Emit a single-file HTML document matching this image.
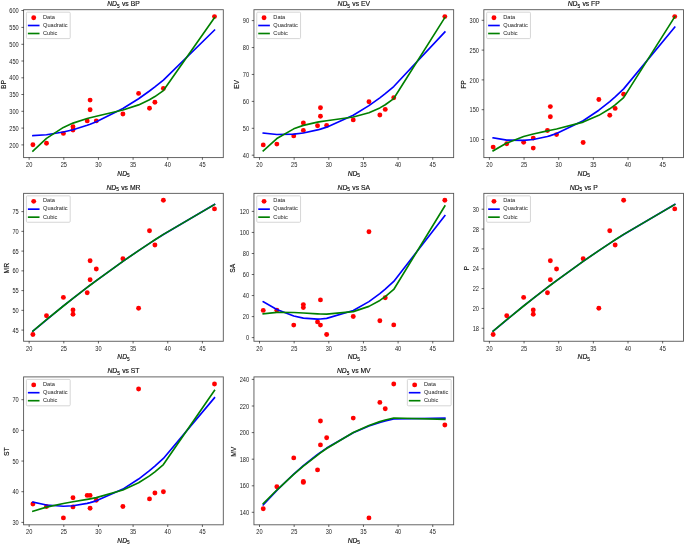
<!DOCTYPE html>
<html><head><meta charset="utf-8"><title>ND5 regression plots</title>
<style>
html,body{margin:0;padding:0;background:#fff;}
body{width:685px;height:545px;overflow:hidden;font-family:"Liberation Sans",sans-serif;}
svg text{font-family:"Liberation Sans",sans-serif;}
</style></head><body>
<svg width="685" height="545" viewBox="0 0 685 545" style="display:block;will-change:transform" font-family="'Liberation Sans', sans-serif" fill="#000"><style>text{fill:#1a1a1a}</style>
<rect x="0" y="0" width="685" height="545" fill="#fff"/>
<g>
<circle cx="32.9" cy="144.7" r="2.45" fill="#f00"/>
<circle cx="46.5" cy="143.2" r="2.45" fill="#f00"/>
<circle cx="63.4" cy="133.4" r="2.45" fill="#f00"/>
<circle cx="73" cy="126.7" r="2.45" fill="#f00"/>
<circle cx="73" cy="130" r="2.45" fill="#f00"/>
<circle cx="87.2" cy="120.9" r="2.45" fill="#f00"/>
<circle cx="90.1" cy="100.1" r="2.45" fill="#f00"/>
<circle cx="90.1" cy="109.8" r="2.45" fill="#f00"/>
<circle cx="96.3" cy="120.9" r="2.45" fill="#f00"/>
<circle cx="122.9" cy="114" r="2.45" fill="#f00"/>
<circle cx="138.6" cy="93.4" r="2.45" fill="#f00"/>
<circle cx="149.5" cy="108.2" r="2.45" fill="#f00"/>
<circle cx="154.9" cy="102.2" r="2.45" fill="#f00"/>
<circle cx="163.4" cy="88.5" r="2.45" fill="#f00"/>
<circle cx="214.5" cy="16.6" r="2.45" fill="#f00"/>
<polyline points="32.9,135.69 46.5,134.76 63.4,132.03 73,129.7 87.2,125.23 90.1,124.16 96.3,121.71 122.9,108.53 138.6,98.72 149.5,91.03 154.9,86.95 163.4,80.16 214.5,30.07" fill="none" stroke="#00f" stroke-width="1.65" stroke-linecap="square" stroke-linejoin="round"/>
<polyline points="32.9,151.08 46.5,138.32 63.4,127.42 73,123.12 87.2,118.49 90.1,117.72 96.3,116.22 122.9,110.07 138.6,104.88 149.5,99.73 154.9,96.55 163.4,90.56 214.5,17.62" fill="none" stroke="#008000" stroke-width="1.65" stroke-linecap="square" stroke-linejoin="round"/>
<rect x="23.6" y="9.7" width="199.7" height="147.9" fill="none" stroke="#555" stroke-width="0.9"/>
<line x1="29.15" y1="157.6" x2="29.15" y2="159.8" stroke="#000" stroke-width="0.6"/>
<text transform="translate(29.15,167.2) scale(1,1.2)" font-size="5.65" text-anchor="middle">20</text>
<line x1="63.8" y1="157.6" x2="63.8" y2="159.8" stroke="#000" stroke-width="0.6"/>
<text transform="translate(63.8,167.2) scale(1,1.2)" font-size="5.65" text-anchor="middle">25</text>
<line x1="98.45" y1="157.6" x2="98.45" y2="159.8" stroke="#000" stroke-width="0.6"/>
<text transform="translate(98.45,167.2) scale(1,1.2)" font-size="5.65" text-anchor="middle">30</text>
<line x1="133.1" y1="157.6" x2="133.1" y2="159.8" stroke="#000" stroke-width="0.6"/>
<text transform="translate(133.1,167.2) scale(1,1.2)" font-size="5.65" text-anchor="middle">35</text>
<line x1="167.75" y1="157.6" x2="167.75" y2="159.8" stroke="#000" stroke-width="0.6"/>
<text transform="translate(167.75,167.2) scale(1,1.2)" font-size="5.65" text-anchor="middle">40</text>
<line x1="202.4" y1="157.6" x2="202.4" y2="159.8" stroke="#000" stroke-width="0.6"/>
<text transform="translate(202.4,167.2) scale(1,1.2)" font-size="5.65" text-anchor="middle">45</text>
<line x1="21.4" y1="10.5" x2="23.6" y2="10.5" stroke="#000" stroke-width="0.6"/>
<text transform="translate(18.7,13.1) scale(1,1.2)" font-size="5.65" text-anchor="end">600</text>
<line x1="21.4" y1="27.4" x2="23.6" y2="27.4" stroke="#000" stroke-width="0.6"/>
<text transform="translate(18.7,30) scale(1,1.2)" font-size="5.65" text-anchor="end">550</text>
<line x1="21.4" y1="44.3" x2="23.6" y2="44.3" stroke="#000" stroke-width="0.6"/>
<text transform="translate(18.7,46.9) scale(1,1.2)" font-size="5.65" text-anchor="end">500</text>
<line x1="21.4" y1="61" x2="23.6" y2="61" stroke="#000" stroke-width="0.6"/>
<text transform="translate(18.7,63.6) scale(1,1.2)" font-size="5.65" text-anchor="end">450</text>
<line x1="21.4" y1="77.8" x2="23.6" y2="77.8" stroke="#000" stroke-width="0.6"/>
<text transform="translate(18.7,80.4) scale(1,1.2)" font-size="5.65" text-anchor="end">400</text>
<line x1="21.4" y1="94.5" x2="23.6" y2="94.5" stroke="#000" stroke-width="0.6"/>
<text transform="translate(18.7,97.1) scale(1,1.2)" font-size="5.65" text-anchor="end">350</text>
<line x1="21.4" y1="111.3" x2="23.6" y2="111.3" stroke="#000" stroke-width="0.6"/>
<text transform="translate(18.7,113.9) scale(1,1.2)" font-size="5.65" text-anchor="end">300</text>
<line x1="21.4" y1="128.1" x2="23.6" y2="128.1" stroke="#000" stroke-width="0.6"/>
<text transform="translate(18.7,130.7) scale(1,1.2)" font-size="5.65" text-anchor="end">250</text>
<line x1="21.4" y1="144.9" x2="23.6" y2="144.9" stroke="#000" stroke-width="0.6"/>
<text transform="translate(18.7,147.5) scale(1,1.2)" font-size="5.65" text-anchor="end">200</text>
<text x="123.45" y="175.8" font-size="6.7" text-anchor="middle" stroke="#000" stroke-width="0.15"><tspan font-style="italic">ND</tspan><tspan font-size="4.69" dy="1.47">5</tspan></text>
<text x="123.45" y="6.15" font-size="6.8" text-anchor="middle" stroke="#000" stroke-width="0.15"><tspan font-style="italic">ND</tspan><tspan font-size="4.76" dy="1.5">5</tspan><tspan dx="0.4" dy="-1.5"> vs BP</tspan></text>
<text transform="translate(5.8,84.55) rotate(-90)" font-size="6.7" stroke="#000" stroke-width="0.15" text-anchor="middle">BP</text>
<rect x="26.4" y="12.2" width="43.8" height="26.4" rx="1" ry="1" fill="#fff" fill-opacity="0.8" stroke="#ccc" stroke-width="0.8"/>
<circle cx="33.7" cy="17.7" r="2.45" fill="#f00"/>
<line x1="28.7" y1="25.5" x2="38.7" y2="25.5" stroke="#00f" stroke-width="1.65" stroke-linecap="square"/>
<line x1="28.7" y1="33.5" x2="38.7" y2="33.5" stroke="#008000" stroke-width="1.65" stroke-linecap="square"/>
<text x="43" y="18.8" font-size="5.65">Data</text>
<text x="43" y="26.8" font-size="5.65">Quadratic</text>
<text x="43" y="34.9" font-size="5.65">Cubic</text>
</g>
<g>
<circle cx="263.25" cy="144.9" r="2.45" fill="#f00"/>
<circle cx="276.85" cy="144.1" r="2.45" fill="#f00"/>
<circle cx="293.75" cy="135.9" r="2.45" fill="#f00"/>
<circle cx="303.35" cy="122.9" r="2.45" fill="#f00"/>
<circle cx="303.35" cy="130.4" r="2.45" fill="#f00"/>
<circle cx="317.55" cy="125.8" r="2.45" fill="#f00"/>
<circle cx="320.45" cy="107.7" r="2.45" fill="#f00"/>
<circle cx="320.45" cy="116.2" r="2.45" fill="#f00"/>
<circle cx="326.65" cy="125.5" r="2.45" fill="#f00"/>
<circle cx="353.25" cy="119.9" r="2.45" fill="#f00"/>
<circle cx="368.95" cy="101.8" r="2.45" fill="#f00"/>
<circle cx="379.85" cy="115" r="2.45" fill="#f00"/>
<circle cx="385.25" cy="109.4" r="2.45" fill="#f00"/>
<circle cx="393.75" cy="97.8" r="2.45" fill="#f00"/>
<circle cx="444.85" cy="16.6" r="2.45" fill="#f00"/>
<polyline points="263.25,133.1 276.85,134.47 293.75,134.16 303.35,132.99 317.55,129.93 320.45,129.11 326.65,127.14 353.25,115.26 368.95,105.65 379.85,97.84 385.25,93.63 393.75,86.54 444.85,31.95" fill="none" stroke="#00f" stroke-width="1.65" stroke-linecap="square" stroke-linejoin="round"/>
<polyline points="263.25,150.89 276.85,138.58 293.75,128.84 303.35,125.38 317.55,122.14 320.45,121.67 326.65,120.79 353.25,117.04 368.95,112.77 379.85,107.91 385.25,104.74 393.75,98.56 444.85,17.55" fill="none" stroke="#008000" stroke-width="1.65" stroke-linecap="square" stroke-linejoin="round"/>
<rect x="253.95" y="9.7" width="199.7" height="147.9" fill="none" stroke="#555" stroke-width="0.9"/>
<line x1="259.5" y1="157.6" x2="259.5" y2="159.8" stroke="#000" stroke-width="0.6"/>
<text transform="translate(259.5,167.2) scale(1,1.2)" font-size="5.65" text-anchor="middle">20</text>
<line x1="294.15" y1="157.6" x2="294.15" y2="159.8" stroke="#000" stroke-width="0.6"/>
<text transform="translate(294.15,167.2) scale(1,1.2)" font-size="5.65" text-anchor="middle">25</text>
<line x1="328.8" y1="157.6" x2="328.8" y2="159.8" stroke="#000" stroke-width="0.6"/>
<text transform="translate(328.8,167.2) scale(1,1.2)" font-size="5.65" text-anchor="middle">30</text>
<line x1="363.45" y1="157.6" x2="363.45" y2="159.8" stroke="#000" stroke-width="0.6"/>
<text transform="translate(363.45,167.2) scale(1,1.2)" font-size="5.65" text-anchor="middle">35</text>
<line x1="398.1" y1="157.6" x2="398.1" y2="159.8" stroke="#000" stroke-width="0.6"/>
<text transform="translate(398.1,167.2) scale(1,1.2)" font-size="5.65" text-anchor="middle">40</text>
<line x1="432.75" y1="157.6" x2="432.75" y2="159.8" stroke="#000" stroke-width="0.6"/>
<text transform="translate(432.75,167.2) scale(1,1.2)" font-size="5.65" text-anchor="middle">45</text>
<line x1="251.75" y1="20.6" x2="253.95" y2="20.6" stroke="#000" stroke-width="0.6"/>
<text transform="translate(249.05,23.2) scale(1,1.2)" font-size="5.65" text-anchor="end">90</text>
<line x1="251.75" y1="47.55" x2="253.95" y2="47.55" stroke="#000" stroke-width="0.6"/>
<text transform="translate(249.05,50.15) scale(1,1.2)" font-size="5.65" text-anchor="end">80</text>
<line x1="251.75" y1="74.45" x2="253.95" y2="74.45" stroke="#000" stroke-width="0.6"/>
<text transform="translate(249.05,77.05) scale(1,1.2)" font-size="5.65" text-anchor="end">70</text>
<line x1="251.75" y1="101.4" x2="253.95" y2="101.4" stroke="#000" stroke-width="0.6"/>
<text transform="translate(249.05,104) scale(1,1.2)" font-size="5.65" text-anchor="end">60</text>
<line x1="251.75" y1="128.3" x2="253.95" y2="128.3" stroke="#000" stroke-width="0.6"/>
<text transform="translate(249.05,130.9) scale(1,1.2)" font-size="5.65" text-anchor="end">50</text>
<line x1="251.75" y1="155.2" x2="253.95" y2="155.2" stroke="#000" stroke-width="0.6"/>
<text transform="translate(249.05,157.8) scale(1,1.2)" font-size="5.65" text-anchor="end">40</text>
<text x="353.8" y="175.8" font-size="6.7" text-anchor="middle" stroke="#000" stroke-width="0.15"><tspan font-style="italic">ND</tspan><tspan font-size="4.69" dy="1.47">5</tspan></text>
<text x="353.8" y="6.15" font-size="6.8" text-anchor="middle" stroke="#000" stroke-width="0.15"><tspan font-style="italic">ND</tspan><tspan font-size="4.76" dy="1.5">5</tspan><tspan dx="0.4" dy="-1.5"> vs EV</tspan></text>
<text transform="translate(238.9,84.55) rotate(-90)" font-size="6.7" stroke="#000" stroke-width="0.15" text-anchor="middle">EV</text>
<rect x="256.75" y="12.2" width="43.8" height="26.4" rx="1" ry="1" fill="#fff" fill-opacity="0.8" stroke="#ccc" stroke-width="0.8"/>
<circle cx="264.05" cy="17.7" r="2.45" fill="#f00"/>
<line x1="259.05" y1="25.5" x2="269.05" y2="25.5" stroke="#00f" stroke-width="1.65" stroke-linecap="square"/>
<line x1="259.05" y1="33.5" x2="269.05" y2="33.5" stroke="#008000" stroke-width="1.65" stroke-linecap="square"/>
<text x="273.35" y="18.8" font-size="5.65">Data</text>
<text x="273.35" y="26.8" font-size="5.65">Quadratic</text>
<text x="273.35" y="34.9" font-size="5.65">Cubic</text>
</g>
<g>
<circle cx="493.15" cy="147.1" r="2.45" fill="#f00"/>
<circle cx="506.75" cy="143.7" r="2.45" fill="#f00"/>
<circle cx="523.65" cy="142.2" r="2.45" fill="#f00"/>
<circle cx="533.25" cy="138.1" r="2.45" fill="#f00"/>
<circle cx="533.25" cy="148.1" r="2.45" fill="#f00"/>
<circle cx="547.45" cy="130.5" r="2.45" fill="#f00"/>
<circle cx="550.35" cy="106.6" r="2.45" fill="#f00"/>
<circle cx="550.35" cy="116.7" r="2.45" fill="#f00"/>
<circle cx="556.55" cy="134.6" r="2.45" fill="#f00"/>
<circle cx="583.15" cy="142.5" r="2.45" fill="#f00"/>
<circle cx="598.85" cy="99.5" r="2.45" fill="#f00"/>
<circle cx="609.75" cy="115.3" r="2.45" fill="#f00"/>
<circle cx="615.15" cy="108.4" r="2.45" fill="#f00"/>
<circle cx="623.65" cy="94.2" r="2.45" fill="#f00"/>
<circle cx="674.75" cy="16.6" r="2.45" fill="#f00"/>
<polyline points="493.15,137.93 506.75,140.09 523.65,140.43 533.25,139.45 547.45,136.46 550.35,135.63 556.55,133.58 583.15,120.79 598.85,110.21 609.75,101.53 615.15,96.83 623.65,88.89 674.75,27.21" fill="none" stroke="#00f" stroke-width="1.65" stroke-linecap="square" stroke-linejoin="round"/>
<polyline points="493.15,150.81 506.75,143.07 523.65,136.57 533.25,133.94 547.45,130.82 550.35,130.23 556.55,128.98 583.15,122.08 598.85,115.36 609.75,108.82 615.15,104.88 623.65,97.6 674.75,16.77" fill="none" stroke="#008000" stroke-width="1.65" stroke-linecap="square" stroke-linejoin="round"/>
<rect x="483.85" y="9.7" width="199.7" height="147.9" fill="none" stroke="#555" stroke-width="0.9"/>
<line x1="489.4" y1="157.6" x2="489.4" y2="159.8" stroke="#000" stroke-width="0.6"/>
<text transform="translate(489.4,167.2) scale(1,1.2)" font-size="5.65" text-anchor="middle">20</text>
<line x1="524.05" y1="157.6" x2="524.05" y2="159.8" stroke="#000" stroke-width="0.6"/>
<text transform="translate(524.05,167.2) scale(1,1.2)" font-size="5.65" text-anchor="middle">25</text>
<line x1="558.7" y1="157.6" x2="558.7" y2="159.8" stroke="#000" stroke-width="0.6"/>
<text transform="translate(558.7,167.2) scale(1,1.2)" font-size="5.65" text-anchor="middle">30</text>
<line x1="593.35" y1="157.6" x2="593.35" y2="159.8" stroke="#000" stroke-width="0.6"/>
<text transform="translate(593.35,167.2) scale(1,1.2)" font-size="5.65" text-anchor="middle">35</text>
<line x1="628" y1="157.6" x2="628" y2="159.8" stroke="#000" stroke-width="0.6"/>
<text transform="translate(628,167.2) scale(1,1.2)" font-size="5.65" text-anchor="middle">40</text>
<line x1="662.65" y1="157.6" x2="662.65" y2="159.8" stroke="#000" stroke-width="0.6"/>
<text transform="translate(662.65,167.2) scale(1,1.2)" font-size="5.65" text-anchor="middle">45</text>
<line x1="481.65" y1="20.3" x2="483.85" y2="20.3" stroke="#000" stroke-width="0.6"/>
<text transform="translate(478.95,22.9) scale(1,1.2)" font-size="5.65" text-anchor="end">300</text>
<line x1="481.65" y1="50.1" x2="483.85" y2="50.1" stroke="#000" stroke-width="0.6"/>
<text transform="translate(478.95,52.7) scale(1,1.2)" font-size="5.65" text-anchor="end">250</text>
<line x1="481.65" y1="79.9" x2="483.85" y2="79.9" stroke="#000" stroke-width="0.6"/>
<text transform="translate(478.95,82.5) scale(1,1.2)" font-size="5.65" text-anchor="end">200</text>
<line x1="481.65" y1="109.7" x2="483.85" y2="109.7" stroke="#000" stroke-width="0.6"/>
<text transform="translate(478.95,112.3) scale(1,1.2)" font-size="5.65" text-anchor="end">150</text>
<line x1="481.65" y1="139.5" x2="483.85" y2="139.5" stroke="#000" stroke-width="0.6"/>
<text transform="translate(478.95,142.1) scale(1,1.2)" font-size="5.65" text-anchor="end">100</text>
<text x="583.7" y="175.8" font-size="6.7" text-anchor="middle" stroke="#000" stroke-width="0.15"><tspan font-style="italic">ND</tspan><tspan font-size="4.69" dy="1.47">5</tspan></text>
<text x="583.7" y="6.15" font-size="6.8" text-anchor="middle" stroke="#000" stroke-width="0.15"><tspan font-style="italic">ND</tspan><tspan font-size="4.76" dy="1.5">5</tspan><tspan dx="0.4" dy="-1.5"> vs FP</tspan></text>
<text transform="translate(466.1,84.55) rotate(-90)" font-size="6.7" stroke="#000" stroke-width="0.15" text-anchor="middle">FP</text>
<rect x="486.65" y="12.2" width="43.8" height="26.4" rx="1" ry="1" fill="#fff" fill-opacity="0.8" stroke="#ccc" stroke-width="0.8"/>
<circle cx="493.95" cy="17.7" r="2.45" fill="#f00"/>
<line x1="488.95" y1="25.5" x2="498.95" y2="25.5" stroke="#00f" stroke-width="1.65" stroke-linecap="square"/>
<line x1="488.95" y1="33.5" x2="498.95" y2="33.5" stroke="#008000" stroke-width="1.65" stroke-linecap="square"/>
<text x="503.25" y="18.8" font-size="5.65">Data</text>
<text x="503.25" y="26.8" font-size="5.65">Quadratic</text>
<text x="503.25" y="34.9" font-size="5.65">Cubic</text>
</g>
<g>
<circle cx="32.9" cy="334.5" r="2.45" fill="#f00"/>
<circle cx="46.5" cy="315.8" r="2.45" fill="#f00"/>
<circle cx="63.4" cy="297.4" r="2.45" fill="#f00"/>
<circle cx="73" cy="309.9" r="2.45" fill="#f00"/>
<circle cx="73" cy="314.3" r="2.45" fill="#f00"/>
<circle cx="87.2" cy="292.8" r="2.45" fill="#f00"/>
<circle cx="90.1" cy="260.7" r="2.45" fill="#f00"/>
<circle cx="90.1" cy="279.8" r="2.45" fill="#f00"/>
<circle cx="96.3" cy="269" r="2.45" fill="#f00"/>
<circle cx="122.9" cy="258.7" r="2.45" fill="#f00"/>
<circle cx="138.6" cy="308.3" r="2.45" fill="#f00"/>
<circle cx="149.5" cy="230.7" r="2.45" fill="#f00"/>
<circle cx="154.9" cy="245" r="2.45" fill="#f00"/>
<circle cx="163.4" cy="200.3" r="2.45" fill="#f00"/>
<circle cx="214.5" cy="208.9" r="2.45" fill="#f00"/>
<polyline points="32.9,331.2 46.5,319.76 63.4,305.98 73,298.37 87.2,287.41 90.1,285.21 96.3,280.56 122.9,261.36 138.6,250.59 149.5,243.36 154.9,239.85 163.4,234.43 214.5,204.46" fill="none" stroke="#00f" stroke-width="1.65" stroke-linecap="square" stroke-linejoin="round"/>
<polyline points="32.9,331.13 46.5,319.74 63.4,306 73,298.4 87.2,287.44 90.1,285.24 96.3,280.58 122.9,261.35 138.6,250.56 149.5,243.32 154.9,239.81 163.4,234.39 214.5,204.51" fill="none" stroke="#008000" stroke-width="1.65" stroke-linecap="square" stroke-linejoin="round"/>
<rect x="23.6" y="193.35" width="199.7" height="147.9" fill="none" stroke="#555" stroke-width="0.9"/>
<line x1="29.15" y1="341.25" x2="29.15" y2="343.45" stroke="#000" stroke-width="0.6"/>
<text transform="translate(29.15,350.85) scale(1,1.2)" font-size="5.65" text-anchor="middle">20</text>
<line x1="63.8" y1="341.25" x2="63.8" y2="343.45" stroke="#000" stroke-width="0.6"/>
<text transform="translate(63.8,350.85) scale(1,1.2)" font-size="5.65" text-anchor="middle">25</text>
<line x1="98.45" y1="341.25" x2="98.45" y2="343.45" stroke="#000" stroke-width="0.6"/>
<text transform="translate(98.45,350.85) scale(1,1.2)" font-size="5.65" text-anchor="middle">30</text>
<line x1="133.1" y1="341.25" x2="133.1" y2="343.45" stroke="#000" stroke-width="0.6"/>
<text transform="translate(133.1,350.85) scale(1,1.2)" font-size="5.65" text-anchor="middle">35</text>
<line x1="167.75" y1="341.25" x2="167.75" y2="343.45" stroke="#000" stroke-width="0.6"/>
<text transform="translate(167.75,350.85) scale(1,1.2)" font-size="5.65" text-anchor="middle">40</text>
<line x1="202.4" y1="341.25" x2="202.4" y2="343.45" stroke="#000" stroke-width="0.6"/>
<text transform="translate(202.4,350.85) scale(1,1.2)" font-size="5.65" text-anchor="middle">45</text>
<line x1="21.4" y1="211.6" x2="23.6" y2="211.6" stroke="#000" stroke-width="0.6"/>
<text transform="translate(18.7,214.2) scale(1,1.2)" font-size="5.65" text-anchor="end">75</text>
<line x1="21.4" y1="231.35" x2="23.6" y2="231.35" stroke="#000" stroke-width="0.6"/>
<text transform="translate(18.7,233.95) scale(1,1.2)" font-size="5.65" text-anchor="end">70</text>
<line x1="21.4" y1="251.1" x2="23.6" y2="251.1" stroke="#000" stroke-width="0.6"/>
<text transform="translate(18.7,253.7) scale(1,1.2)" font-size="5.65" text-anchor="end">65</text>
<line x1="21.4" y1="270.85" x2="23.6" y2="270.85" stroke="#000" stroke-width="0.6"/>
<text transform="translate(18.7,273.45) scale(1,1.2)" font-size="5.65" text-anchor="end">60</text>
<line x1="21.4" y1="290.6" x2="23.6" y2="290.6" stroke="#000" stroke-width="0.6"/>
<text transform="translate(18.7,293.2) scale(1,1.2)" font-size="5.65" text-anchor="end">55</text>
<line x1="21.4" y1="310.35" x2="23.6" y2="310.35" stroke="#000" stroke-width="0.6"/>
<text transform="translate(18.7,312.95) scale(1,1.2)" font-size="5.65" text-anchor="end">50</text>
<line x1="21.4" y1="330.1" x2="23.6" y2="330.1" stroke="#000" stroke-width="0.6"/>
<text transform="translate(18.7,332.7) scale(1,1.2)" font-size="5.65" text-anchor="end">45</text>
<text x="123.45" y="359.45" font-size="6.7" text-anchor="middle" stroke="#000" stroke-width="0.15"><tspan font-style="italic">ND</tspan><tspan font-size="4.69" dy="1.47">5</tspan></text>
<text x="123.45" y="189.8" font-size="6.8" text-anchor="middle" stroke="#000" stroke-width="0.15"><tspan font-style="italic">ND</tspan><tspan font-size="4.76" dy="1.5">5</tspan><tspan dx="0.4" dy="-1.5"> vs MR</tspan></text>
<text transform="translate(9,268.2) rotate(-90)" font-size="6.7" stroke="#000" stroke-width="0.15" text-anchor="middle">MR</text>
<rect x="26.4" y="195.85" width="43.8" height="26.4" rx="1" ry="1" fill="#fff" fill-opacity="0.8" stroke="#ccc" stroke-width="0.8"/>
<circle cx="33.7" cy="201.35" r="2.45" fill="#f00"/>
<line x1="28.7" y1="209.15" x2="38.7" y2="209.15" stroke="#00f" stroke-width="1.65" stroke-linecap="square"/>
<line x1="28.7" y1="217.15" x2="38.7" y2="217.15" stroke="#008000" stroke-width="1.65" stroke-linecap="square"/>
<text x="43" y="202.45" font-size="5.65">Data</text>
<text x="43" y="210.45" font-size="5.65">Quadratic</text>
<text x="43" y="218.55" font-size="5.65">Cubic</text>
</g>
<g>
<circle cx="263.25" cy="310.4" r="2.45" fill="#f00"/>
<circle cx="276.85" cy="310.2" r="2.45" fill="#f00"/>
<circle cx="293.75" cy="325.1" r="2.45" fill="#f00"/>
<circle cx="303.35" cy="304.6" r="2.45" fill="#f00"/>
<circle cx="303.35" cy="307.5" r="2.45" fill="#f00"/>
<circle cx="317.55" cy="321.9" r="2.45" fill="#f00"/>
<circle cx="320.45" cy="299.9" r="2.45" fill="#f00"/>
<circle cx="320.45" cy="325.1" r="2.45" fill="#f00"/>
<circle cx="326.65" cy="334.5" r="2.45" fill="#f00"/>
<circle cx="353.25" cy="316.5" r="2.45" fill="#f00"/>
<circle cx="368.95" cy="231.7" r="2.45" fill="#f00"/>
<circle cx="379.85" cy="320.8" r="2.45" fill="#f00"/>
<circle cx="385.25" cy="297.7" r="2.45" fill="#f00"/>
<circle cx="393.75" cy="324.9" r="2.45" fill="#f00"/>
<circle cx="444.85" cy="200.3" r="2.45" fill="#f00"/>
<polyline points="263.25,301.8 276.85,309.58 293.75,316.04 303.35,318.13 317.55,319.1 320.45,318.99 326.65,318.41 353.25,310.45 368.95,301.62 379.85,293.68 385.25,289.2 393.75,281.41 444.85,215.58" fill="none" stroke="#00f" stroke-width="1.65" stroke-linecap="square" stroke-linejoin="round"/>
<polyline points="263.25,313.75 276.85,312.34 293.75,312.46 303.35,313.01 317.55,313.86 320.45,313.99 326.65,314.14 353.25,311.65 368.95,306.4 379.85,300.44 385.25,296.67 393.75,289.49 444.85,205.9" fill="none" stroke="#008000" stroke-width="1.65" stroke-linecap="square" stroke-linejoin="round"/>
<rect x="253.95" y="193.35" width="199.7" height="147.9" fill="none" stroke="#555" stroke-width="0.9"/>
<line x1="259.5" y1="341.25" x2="259.5" y2="343.45" stroke="#000" stroke-width="0.6"/>
<text transform="translate(259.5,350.85) scale(1,1.2)" font-size="5.65" text-anchor="middle">20</text>
<line x1="294.15" y1="341.25" x2="294.15" y2="343.45" stroke="#000" stroke-width="0.6"/>
<text transform="translate(294.15,350.85) scale(1,1.2)" font-size="5.65" text-anchor="middle">25</text>
<line x1="328.8" y1="341.25" x2="328.8" y2="343.45" stroke="#000" stroke-width="0.6"/>
<text transform="translate(328.8,350.85) scale(1,1.2)" font-size="5.65" text-anchor="middle">30</text>
<line x1="363.45" y1="341.25" x2="363.45" y2="343.45" stroke="#000" stroke-width="0.6"/>
<text transform="translate(363.45,350.85) scale(1,1.2)" font-size="5.65" text-anchor="middle">35</text>
<line x1="398.1" y1="341.25" x2="398.1" y2="343.45" stroke="#000" stroke-width="0.6"/>
<text transform="translate(398.1,350.85) scale(1,1.2)" font-size="5.65" text-anchor="middle">40</text>
<line x1="432.75" y1="341.25" x2="432.75" y2="343.45" stroke="#000" stroke-width="0.6"/>
<text transform="translate(432.75,350.85) scale(1,1.2)" font-size="5.65" text-anchor="middle">45</text>
<line x1="251.75" y1="211.4" x2="253.95" y2="211.4" stroke="#000" stroke-width="0.6"/>
<text transform="translate(249.05,214) scale(1,1.2)" font-size="5.65" text-anchor="end">120</text>
<line x1="251.75" y1="232.45" x2="253.95" y2="232.45" stroke="#000" stroke-width="0.6"/>
<text transform="translate(249.05,235.05) scale(1,1.2)" font-size="5.65" text-anchor="end">100</text>
<line x1="251.75" y1="253.5" x2="253.95" y2="253.5" stroke="#000" stroke-width="0.6"/>
<text transform="translate(249.05,256.1) scale(1,1.2)" font-size="5.65" text-anchor="end">80</text>
<line x1="251.75" y1="274.5" x2="253.95" y2="274.5" stroke="#000" stroke-width="0.6"/>
<text transform="translate(249.05,277.1) scale(1,1.2)" font-size="5.65" text-anchor="end">60</text>
<line x1="251.75" y1="295.55" x2="253.95" y2="295.55" stroke="#000" stroke-width="0.6"/>
<text transform="translate(249.05,298.15) scale(1,1.2)" font-size="5.65" text-anchor="end">40</text>
<line x1="251.75" y1="316.6" x2="253.95" y2="316.6" stroke="#000" stroke-width="0.6"/>
<text transform="translate(249.05,319.2) scale(1,1.2)" font-size="5.65" text-anchor="end">20</text>
<line x1="251.75" y1="337.6" x2="253.95" y2="337.6" stroke="#000" stroke-width="0.6"/>
<text transform="translate(249.05,340.2) scale(1,1.2)" font-size="5.65" text-anchor="end">0</text>
<text x="353.8" y="359.45" font-size="6.7" text-anchor="middle" stroke="#000" stroke-width="0.15"><tspan font-style="italic">ND</tspan><tspan font-size="4.69" dy="1.47">5</tspan></text>
<text x="353.8" y="189.8" font-size="6.8" text-anchor="middle" stroke="#000" stroke-width="0.15"><tspan font-style="italic">ND</tspan><tspan font-size="4.76" dy="1.5">5</tspan><tspan dx="0.4" dy="-1.5"> vs SA</tspan></text>
<text transform="translate(235.4,268.2) rotate(-90)" font-size="6.7" stroke="#000" stroke-width="0.15" text-anchor="middle">SA</text>
<rect x="256.75" y="195.85" width="43.8" height="26.4" rx="1" ry="1" fill="#fff" fill-opacity="0.8" stroke="#ccc" stroke-width="0.8"/>
<circle cx="264.05" cy="201.35" r="2.45" fill="#f00"/>
<line x1="259.05" y1="209.15" x2="269.05" y2="209.15" stroke="#00f" stroke-width="1.65" stroke-linecap="square"/>
<line x1="259.05" y1="217.15" x2="269.05" y2="217.15" stroke="#008000" stroke-width="1.65" stroke-linecap="square"/>
<text x="273.35" y="202.45" font-size="5.65">Data</text>
<text x="273.35" y="210.45" font-size="5.65">Quadratic</text>
<text x="273.35" y="218.55" font-size="5.65">Cubic</text>
</g>
<g>
<circle cx="493.15" cy="334.5" r="2.45" fill="#f00"/>
<circle cx="506.75" cy="315.8" r="2.45" fill="#f00"/>
<circle cx="523.65" cy="297.4" r="2.45" fill="#f00"/>
<circle cx="533.25" cy="309.9" r="2.45" fill="#f00"/>
<circle cx="533.25" cy="314.3" r="2.45" fill="#f00"/>
<circle cx="547.45" cy="292.8" r="2.45" fill="#f00"/>
<circle cx="550.35" cy="260.7" r="2.45" fill="#f00"/>
<circle cx="550.35" cy="279.8" r="2.45" fill="#f00"/>
<circle cx="556.55" cy="269" r="2.45" fill="#f00"/>
<circle cx="583.15" cy="258.7" r="2.45" fill="#f00"/>
<circle cx="598.85" cy="308.3" r="2.45" fill="#f00"/>
<circle cx="609.75" cy="230.7" r="2.45" fill="#f00"/>
<circle cx="615.15" cy="245" r="2.45" fill="#f00"/>
<circle cx="623.65" cy="200.3" r="2.45" fill="#f00"/>
<circle cx="674.75" cy="208.9" r="2.45" fill="#f00"/>
<polyline points="493.15,331.2 506.75,319.76 523.65,305.98 533.25,298.37 547.45,287.41 550.35,285.21 556.55,280.56 583.15,261.36 598.85,250.59 609.75,243.36 615.15,239.85 623.65,234.43 674.75,204.46" fill="none" stroke="#00f" stroke-width="1.65" stroke-linecap="square" stroke-linejoin="round"/>
<polyline points="493.15,331.13 506.75,319.74 523.65,306 533.25,298.4 547.45,287.44 550.35,285.24 556.55,280.58 583.15,261.35 598.85,250.56 609.75,243.32 615.15,239.81 623.65,234.39 674.75,204.51" fill="none" stroke="#008000" stroke-width="1.65" stroke-linecap="square" stroke-linejoin="round"/>
<rect x="483.85" y="193.35" width="199.7" height="147.9" fill="none" stroke="#555" stroke-width="0.9"/>
<line x1="489.4" y1="341.25" x2="489.4" y2="343.45" stroke="#000" stroke-width="0.6"/>
<text transform="translate(489.4,350.85) scale(1,1.2)" font-size="5.65" text-anchor="middle">20</text>
<line x1="524.05" y1="341.25" x2="524.05" y2="343.45" stroke="#000" stroke-width="0.6"/>
<text transform="translate(524.05,350.85) scale(1,1.2)" font-size="5.65" text-anchor="middle">25</text>
<line x1="558.7" y1="341.25" x2="558.7" y2="343.45" stroke="#000" stroke-width="0.6"/>
<text transform="translate(558.7,350.85) scale(1,1.2)" font-size="5.65" text-anchor="middle">30</text>
<line x1="593.35" y1="341.25" x2="593.35" y2="343.45" stroke="#000" stroke-width="0.6"/>
<text transform="translate(593.35,350.85) scale(1,1.2)" font-size="5.65" text-anchor="middle">35</text>
<line x1="628" y1="341.25" x2="628" y2="343.45" stroke="#000" stroke-width="0.6"/>
<text transform="translate(628,350.85) scale(1,1.2)" font-size="5.65" text-anchor="middle">40</text>
<line x1="662.65" y1="341.25" x2="662.65" y2="343.45" stroke="#000" stroke-width="0.6"/>
<text transform="translate(662.65,350.85) scale(1,1.2)" font-size="5.65" text-anchor="middle">45</text>
<line x1="481.65" y1="209.2" x2="483.85" y2="209.2" stroke="#000" stroke-width="0.6"/>
<text transform="translate(478.95,211.8) scale(1,1.2)" font-size="5.65" text-anchor="end">30</text>
<line x1="481.65" y1="229.05" x2="483.85" y2="229.05" stroke="#000" stroke-width="0.6"/>
<text transform="translate(478.95,231.65) scale(1,1.2)" font-size="5.65" text-anchor="end">28</text>
<line x1="481.65" y1="248.9" x2="483.85" y2="248.9" stroke="#000" stroke-width="0.6"/>
<text transform="translate(478.95,251.5) scale(1,1.2)" font-size="5.65" text-anchor="end">26</text>
<line x1="481.65" y1="268.75" x2="483.85" y2="268.75" stroke="#000" stroke-width="0.6"/>
<text transform="translate(478.95,271.35) scale(1,1.2)" font-size="5.65" text-anchor="end">24</text>
<line x1="481.65" y1="288.6" x2="483.85" y2="288.6" stroke="#000" stroke-width="0.6"/>
<text transform="translate(478.95,291.2) scale(1,1.2)" font-size="5.65" text-anchor="end">22</text>
<line x1="481.65" y1="308.45" x2="483.85" y2="308.45" stroke="#000" stroke-width="0.6"/>
<text transform="translate(478.95,311.05) scale(1,1.2)" font-size="5.65" text-anchor="end">20</text>
<line x1="481.65" y1="328.3" x2="483.85" y2="328.3" stroke="#000" stroke-width="0.6"/>
<text transform="translate(478.95,330.9) scale(1,1.2)" font-size="5.65" text-anchor="end">18</text>
<text x="583.7" y="359.45" font-size="6.7" text-anchor="middle" stroke="#000" stroke-width="0.15"><tspan font-style="italic">ND</tspan><tspan font-size="4.69" dy="1.47">5</tspan></text>
<text x="583.7" y="189.8" font-size="6.8" text-anchor="middle" stroke="#000" stroke-width="0.15"><tspan font-style="italic">ND</tspan><tspan font-size="4.76" dy="1.5">5</tspan><tspan dx="0.4" dy="-1.5"> vs P</tspan></text>
<text transform="translate(468.8,268.2) rotate(-90)" font-size="6.7" stroke="#000" stroke-width="0.15" text-anchor="middle">P</text>
<rect x="486.65" y="195.85" width="43.8" height="26.4" rx="1" ry="1" fill="#fff" fill-opacity="0.8" stroke="#ccc" stroke-width="0.8"/>
<circle cx="493.95" cy="201.35" r="2.45" fill="#f00"/>
<line x1="488.95" y1="209.15" x2="498.95" y2="209.15" stroke="#00f" stroke-width="1.65" stroke-linecap="square"/>
<line x1="488.95" y1="217.15" x2="498.95" y2="217.15" stroke="#008000" stroke-width="1.65" stroke-linecap="square"/>
<text x="503.25" y="202.45" font-size="5.65">Data</text>
<text x="503.25" y="210.45" font-size="5.65">Quadratic</text>
<text x="503.25" y="218.55" font-size="5.65">Cubic</text>
</g>
<g>
<circle cx="32.9" cy="504" r="2.45" fill="#f00"/>
<circle cx="46.5" cy="506.5" r="2.45" fill="#f00"/>
<circle cx="63.4" cy="517.9" r="2.45" fill="#f00"/>
<circle cx="73" cy="497.8" r="2.45" fill="#f00"/>
<circle cx="73" cy="506.9" r="2.45" fill="#f00"/>
<circle cx="87.2" cy="495.4" r="2.45" fill="#f00"/>
<circle cx="90.1" cy="495.4" r="2.45" fill="#f00"/>
<circle cx="90.1" cy="508.2" r="2.45" fill="#f00"/>
<circle cx="96.3" cy="500.3" r="2.45" fill="#f00"/>
<circle cx="122.9" cy="506.5" r="2.45" fill="#f00"/>
<circle cx="138.6" cy="389" r="2.45" fill="#f00"/>
<circle cx="149.5" cy="498.9" r="2.45" fill="#f00"/>
<circle cx="154.9" cy="493" r="2.45" fill="#f00"/>
<circle cx="163.4" cy="491.7" r="2.45" fill="#f00"/>
<circle cx="214.5" cy="384" r="2.45" fill="#f00"/>
<polyline points="32.9,502.14 46.5,505.04 63.4,506.23 73,505.71 87.2,503.36 90.1,502.65 96.3,500.86 122.9,489.09 138.6,479.03 149.5,470.68 154.9,466.14 163.4,458.42 214.5,397.78" fill="none" stroke="#00f" stroke-width="1.65" stroke-linecap="square" stroke-linejoin="round"/>
<polyline points="32.9,511.27 46.5,507.15 63.4,503.5 73,501.81 87.2,499.36 90.1,498.83 96.3,497.6 122.9,490 138.6,482.68 149.5,475.85 154.9,471.84 163.4,464.59 214.5,390.39" fill="none" stroke="#008000" stroke-width="1.65" stroke-linecap="square" stroke-linejoin="round"/>
<rect x="23.6" y="376.9" width="199.7" height="147.9" fill="none" stroke="#555" stroke-width="0.9"/>
<line x1="29.15" y1="524.8" x2="29.15" y2="527" stroke="#000" stroke-width="0.6"/>
<text transform="translate(29.15,534.4) scale(1,1.2)" font-size="5.65" text-anchor="middle">20</text>
<line x1="63.8" y1="524.8" x2="63.8" y2="527" stroke="#000" stroke-width="0.6"/>
<text transform="translate(63.8,534.4) scale(1,1.2)" font-size="5.65" text-anchor="middle">25</text>
<line x1="98.45" y1="524.8" x2="98.45" y2="527" stroke="#000" stroke-width="0.6"/>
<text transform="translate(98.45,534.4) scale(1,1.2)" font-size="5.65" text-anchor="middle">30</text>
<line x1="133.1" y1="524.8" x2="133.1" y2="527" stroke="#000" stroke-width="0.6"/>
<text transform="translate(133.1,534.4) scale(1,1.2)" font-size="5.65" text-anchor="middle">35</text>
<line x1="167.75" y1="524.8" x2="167.75" y2="527" stroke="#000" stroke-width="0.6"/>
<text transform="translate(167.75,534.4) scale(1,1.2)" font-size="5.65" text-anchor="middle">40</text>
<line x1="202.4" y1="524.8" x2="202.4" y2="527" stroke="#000" stroke-width="0.6"/>
<text transform="translate(202.4,534.4) scale(1,1.2)" font-size="5.65" text-anchor="middle">45</text>
<line x1="21.4" y1="399.7" x2="23.6" y2="399.7" stroke="#000" stroke-width="0.6"/>
<text transform="translate(18.7,402.3) scale(1,1.2)" font-size="5.65" text-anchor="end">70</text>
<line x1="21.4" y1="430.4" x2="23.6" y2="430.4" stroke="#000" stroke-width="0.6"/>
<text transform="translate(18.7,433) scale(1,1.2)" font-size="5.65" text-anchor="end">60</text>
<line x1="21.4" y1="461.05" x2="23.6" y2="461.05" stroke="#000" stroke-width="0.6"/>
<text transform="translate(18.7,463.65) scale(1,1.2)" font-size="5.65" text-anchor="end">50</text>
<line x1="21.4" y1="491.7" x2="23.6" y2="491.7" stroke="#000" stroke-width="0.6"/>
<text transform="translate(18.7,494.3) scale(1,1.2)" font-size="5.65" text-anchor="end">40</text>
<line x1="21.4" y1="522.4" x2="23.6" y2="522.4" stroke="#000" stroke-width="0.6"/>
<text transform="translate(18.7,525) scale(1,1.2)" font-size="5.65" text-anchor="end">30</text>
<text x="123.45" y="543" font-size="6.7" text-anchor="middle" stroke="#000" stroke-width="0.15"><tspan font-style="italic">ND</tspan><tspan font-size="4.69" dy="1.47">5</tspan></text>
<text x="123.45" y="373.35" font-size="6.8" text-anchor="middle" stroke="#000" stroke-width="0.15"><tspan font-style="italic">ND</tspan><tspan font-size="4.76" dy="1.5">5</tspan><tspan dx="0.4" dy="-1.5"> vs ST</tspan></text>
<text transform="translate(9.3,451.75) rotate(-90)" font-size="6.7" stroke="#000" stroke-width="0.15" text-anchor="middle">ST</text>
<rect x="26.4" y="379.4" width="43.8" height="26.4" rx="1" ry="1" fill="#fff" fill-opacity="0.8" stroke="#ccc" stroke-width="0.8"/>
<circle cx="33.7" cy="384.9" r="2.45" fill="#f00"/>
<line x1="28.7" y1="392.7" x2="38.7" y2="392.7" stroke="#00f" stroke-width="1.65" stroke-linecap="square"/>
<line x1="28.7" y1="400.7" x2="38.7" y2="400.7" stroke="#008000" stroke-width="1.65" stroke-linecap="square"/>
<text x="43" y="386" font-size="5.65">Data</text>
<text x="43" y="394" font-size="5.65">Quadratic</text>
<text x="43" y="402.1" font-size="5.65">Cubic</text>
</g>
<g>
<circle cx="263.25" cy="508.7" r="2.45" fill="#f00"/>
<circle cx="276.85" cy="486.8" r="2.45" fill="#f00"/>
<circle cx="293.75" cy="457.9" r="2.45" fill="#f00"/>
<circle cx="303.35" cy="481.4" r="2.45" fill="#f00"/>
<circle cx="303.35" cy="482.4" r="2.45" fill="#f00"/>
<circle cx="317.55" cy="469.9" r="2.45" fill="#f00"/>
<circle cx="320.45" cy="420.95" r="2.45" fill="#f00"/>
<circle cx="320.45" cy="444.9" r="2.45" fill="#f00"/>
<circle cx="326.65" cy="437.8" r="2.45" fill="#f00"/>
<circle cx="353.25" cy="418.1" r="2.45" fill="#f00"/>
<circle cx="368.95" cy="517.9" r="2.45" fill="#f00"/>
<circle cx="379.85" cy="402.4" r="2.45" fill="#f00"/>
<circle cx="385.25" cy="408.8" r="2.45" fill="#f00"/>
<circle cx="393.75" cy="384" r="2.45" fill="#f00"/>
<circle cx="444.85" cy="425" r="2.45" fill="#f00"/>
<polyline points="263.25,504.94 276.85,490.34 293.75,474.02 303.35,465.65 317.55,454.48 320.45,452.37 326.65,448.07 353.25,432.7 368.95,425.99 379.85,422.36 385.25,420.87 393.75,418.95 444.85,418.21" fill="none" stroke="#00f" stroke-width="1.65" stroke-linecap="square" stroke-linejoin="round"/>
<polyline points="263.25,503.6 276.85,490.03 293.75,474.42 303.35,466.22 317.55,455.06 320.45,452.93 326.65,448.54 353.25,432.57 368.95,425.45 379.85,421.6 385.25,420.03 393.75,418.04 444.85,419.3" fill="none" stroke="#008000" stroke-width="1.65" stroke-linecap="square" stroke-linejoin="round"/>
<rect x="253.95" y="376.9" width="199.7" height="147.9" fill="none" stroke="#555" stroke-width="0.9"/>
<line x1="259.5" y1="524.8" x2="259.5" y2="527" stroke="#000" stroke-width="0.6"/>
<text transform="translate(259.5,534.4) scale(1,1.2)" font-size="5.65" text-anchor="middle">20</text>
<line x1="294.15" y1="524.8" x2="294.15" y2="527" stroke="#000" stroke-width="0.6"/>
<text transform="translate(294.15,534.4) scale(1,1.2)" font-size="5.65" text-anchor="middle">25</text>
<line x1="328.8" y1="524.8" x2="328.8" y2="527" stroke="#000" stroke-width="0.6"/>
<text transform="translate(328.8,534.4) scale(1,1.2)" font-size="5.65" text-anchor="middle">30</text>
<line x1="363.45" y1="524.8" x2="363.45" y2="527" stroke="#000" stroke-width="0.6"/>
<text transform="translate(363.45,534.4) scale(1,1.2)" font-size="5.65" text-anchor="middle">35</text>
<line x1="398.1" y1="524.8" x2="398.1" y2="527" stroke="#000" stroke-width="0.6"/>
<text transform="translate(398.1,534.4) scale(1,1.2)" font-size="5.65" text-anchor="middle">40</text>
<line x1="432.75" y1="524.8" x2="432.75" y2="527" stroke="#000" stroke-width="0.6"/>
<text transform="translate(432.75,534.4) scale(1,1.2)" font-size="5.65" text-anchor="middle">45</text>
<line x1="251.75" y1="379.4" x2="253.95" y2="379.4" stroke="#000" stroke-width="0.6"/>
<text transform="translate(249.05,382) scale(1,1.2)" font-size="5.65" text-anchor="end">240</text>
<line x1="251.75" y1="406" x2="253.95" y2="406" stroke="#000" stroke-width="0.6"/>
<text transform="translate(249.05,408.6) scale(1,1.2)" font-size="5.65" text-anchor="end">220</text>
<line x1="251.75" y1="432.6" x2="253.95" y2="432.6" stroke="#000" stroke-width="0.6"/>
<text transform="translate(249.05,435.2) scale(1,1.2)" font-size="5.65" text-anchor="end">200</text>
<line x1="251.75" y1="459.2" x2="253.95" y2="459.2" stroke="#000" stroke-width="0.6"/>
<text transform="translate(249.05,461.8) scale(1,1.2)" font-size="5.65" text-anchor="end">180</text>
<line x1="251.75" y1="485.8" x2="253.95" y2="485.8" stroke="#000" stroke-width="0.6"/>
<text transform="translate(249.05,488.4) scale(1,1.2)" font-size="5.65" text-anchor="end">160</text>
<line x1="251.75" y1="512.3" x2="253.95" y2="512.3" stroke="#000" stroke-width="0.6"/>
<text transform="translate(249.05,514.9) scale(1,1.2)" font-size="5.65" text-anchor="end">140</text>
<text x="353.8" y="543" font-size="6.7" text-anchor="middle" stroke="#000" stroke-width="0.15"><tspan font-style="italic">ND</tspan><tspan font-size="4.69" dy="1.47">5</tspan></text>
<text x="353.8" y="373.35" font-size="6.8" text-anchor="middle" stroke="#000" stroke-width="0.15"><tspan font-style="italic">ND</tspan><tspan font-size="4.76" dy="1.5">5</tspan><tspan dx="0.4" dy="-1.5"> vs MV</tspan></text>
<text transform="translate(236,451.75) rotate(-90)" font-size="6.7" stroke="#000" stroke-width="0.15" text-anchor="middle">MV</text>
<rect x="407.35" y="379.4" width="43.8" height="26.4" rx="1" ry="1" fill="#fff" fill-opacity="0.8" stroke="#ccc" stroke-width="0.8"/>
<circle cx="414.65" cy="384.9" r="2.45" fill="#f00"/>
<line x1="409.65" y1="392.7" x2="419.65" y2="392.7" stroke="#00f" stroke-width="1.65" stroke-linecap="square"/>
<line x1="409.65" y1="400.7" x2="419.65" y2="400.7" stroke="#008000" stroke-width="1.65" stroke-linecap="square"/>
<text x="423.95" y="386" font-size="5.65">Data</text>
<text x="423.95" y="394" font-size="5.65">Quadratic</text>
<text x="423.95" y="402.1" font-size="5.65">Cubic</text>
</g>
</svg>
</body></html>
